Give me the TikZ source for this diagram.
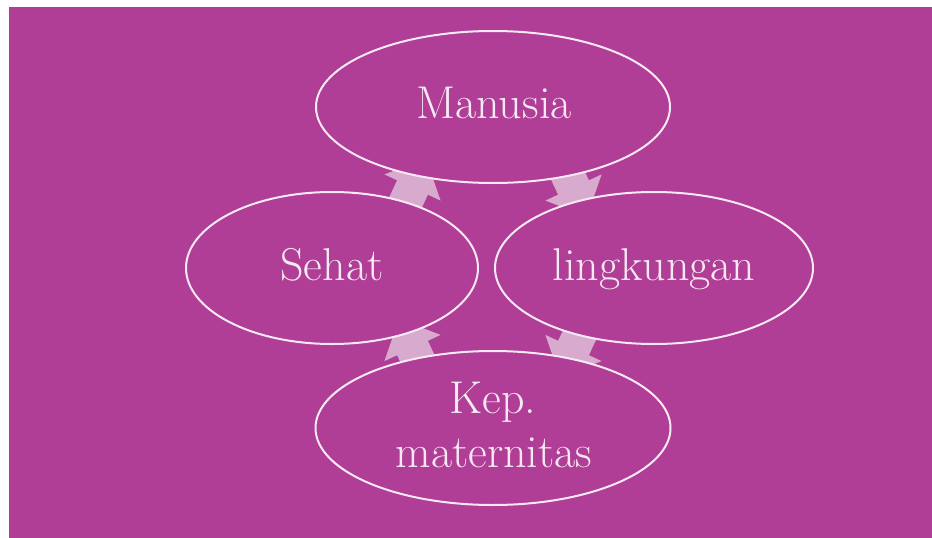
\documentclass[tikz,border=0pt]{standalone}
\usetikzlibrary{shapes.geometric,calc}
\definecolor{bgc}{HTML}{B03E96}
\definecolor{arrc}{HTML}{D8ABCE}
\definecolor{linec}{HTML}{F8EAF4}
\definecolor{txtc}{HTML}{F7E9F3}
\tikzset{
  ell/.style={ellipse, draw=linec, line width=2pt, fill=bgc, inner sep=0pt},
  lbl/.style={text=txtc, font=\fontsize{46}{54}\selectfont, inner sep=0pt, anchor=base},
  blockarrow/.style={fill=arrc}
}
\newcommand{\barrowpath}{(-32,-17) -- (0,-17) -- (0,-31) -- (32,0) -- (0,31) -- (0,17) -- (-32,17) -- cycle}
\begin{document}
\begin{tikzpicture}[x=1pt,y=-1pt]
\useasboundingbox (0,0) rectangle (932,538);
\fill[white] (0,0) rectangle (932,538);
\fill[bgc] (9,7) rectangle (932,538);
% node centres (anchors for arrows)
\coordinate (cman) at (493,107);
\coordinate (cseh) at (332,268);
\coordinate (clin) at (654,268);
\coordinate (ckep) at (493,428);
% block arrows (drawn first, partly hidden by the ellipses)
\fill[blockarrow, shift={($(cseh)!0.5!(cman)$)}, rotate=65] \barrowpath;
\fill[blockarrow, shift={($(cman)!0.5!(clin)$)}, rotate=-65] \barrowpath;
\fill[blockarrow, shift={($(clin)!0.5!(ckep)$)}, rotate=-115] \barrowpath;
\fill[blockarrow, shift={($(ckep)!0.5!(cseh)$)}, rotate=115] \barrowpath;
% ellipses
\node[ell, minimum width=354pt, minimum height=152pt] (man) at (cman) {};
\node[ell, minimum width=292pt, minimum height=152pt] (seh) at (cseh) {};
\node[ell, minimum width=318pt, minimum height=152pt] (lin) at (clin) {};
\node[ell, minimum width=355pt, minimum height=154pt] (kep) at (ckep) {};
% labels
\node[lbl] (tman) at (494,118) {Manusia};
\node[lbl] (tseh) at (332,280) {Sehat};
\node[lbl] (tlin) at (654,280) {lingkungan};
\node[lbl] (tkep1) at (493,413) {Kep.};
\node[lbl] (tkep2) at (494,467) {maternitas};
\end{tikzpicture}
\end{document}
